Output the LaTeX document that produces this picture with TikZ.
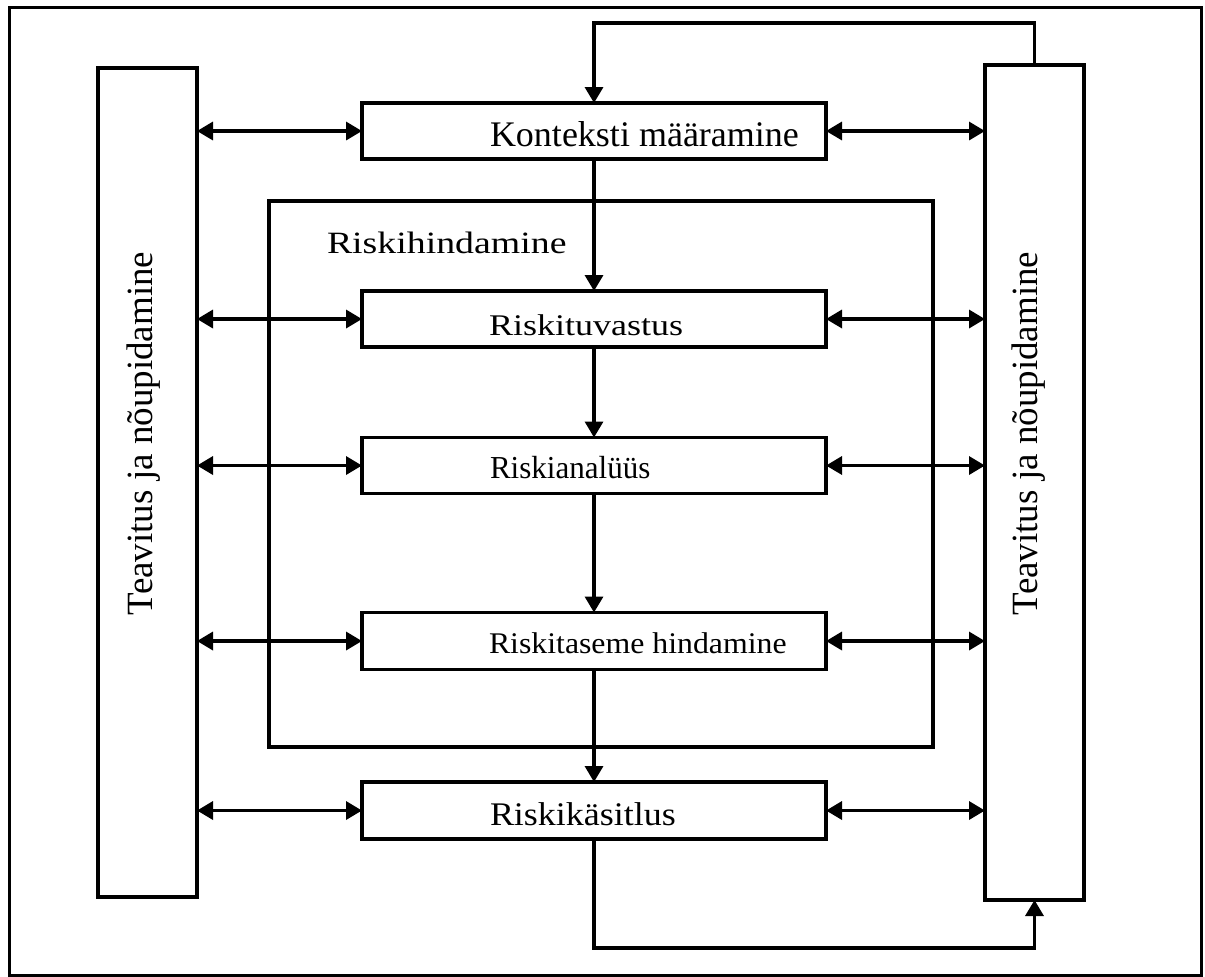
\documentclass[tikz,border=0pt]{standalone}
\usepackage{fontspec}
\setmainfont{Liberation Serif}
\usepackage{graphicx}
\usetikzlibrary{arrows.meta}
\tikzset{
  box/.style={draw, line width=1.9pt, inner sep=0pt, outer sep=0pt},
  tip/.style={},
  arr/.style={line width=1.7pt, -{Triangle[length=8pt,width=9pt]}},
  darr/.style={line width=1.7pt, {Triangle[length=8pt,width=9pt]}-{Triangle[length=8pt,width=9pt]}},
  lbl/.style={anchor=base west, inner sep=0pt, outer sep=0pt},
}
\newcommand{\fs}[1]{\fontsize{#1}{#1}\selectfont}
\begin{document}
\begin{tikzpicture}[x=0.5pt,y=-0.5pt]
\useasboundingbox (0,0) rectangle (1205,976);
% outer border
\draw[line width=1.5pt] (9,7) rectangle (1201,975);
% side boxes
\node[box, minimum width=49.5pt, minimum height=414.5pt] (L) at (147.5,482.5) {};
\node[box, minimum width=49.5pt, minimum height=417.5pt] (R) at (1034.5,482.5) {};
% risk assessment frame
\node[box, minimum width=332pt, minimum height=273pt] (F) at (601,474) {};
% process boxes
\node[box, minimum width=232pt, minimum height=28pt] (k) at (594,131) {};
\node[box, minimum width=232pt, minimum height=28pt] (t) at (594,319) {};
\node[box, minimum width=232pt, minimum height=28pt] (a) at (594,465.5) {};
\node[box, minimum width=232pt, minimum height=28.5pt] (h) at (594,641) {};
\node[box, minimum width=232pt, minimum height=28.5pt] (s) at (594,810.5) {};
% labels
\node[lbl] (kl) at (490,146) {\fs{18}Konteksti määramine};
\node[lbl] (fl) at (327,253) {\fs{15.5}\scalebox{1.22}[1]{Riskihindamine}};
\node[lbl] (tl) at (489,335) {\fs{15}\scalebox{1.2}[1]{Riskituvastus}};
\node[lbl] (al) at (490,478) {\fs{16}\scalebox{0.97}[1]{Riskianalüüs}};
\node[lbl] (hl) at (489,653) {\fs{15}\scalebox{1.06}[1]{Riskitaseme hindamine}};
\node[lbl] (sl) at (490,825) {\fs{16.5}\scalebox{1.09}[1]{Riskikäsitlus}};
\node[lbl, rotate=90] (Ll) at (152,615) {\fs{18.5}Teavitus ja nõupidamine};
\node[lbl, rotate=90] (Rl) at (1037,615) {\fs{18.5}Teavitus ja nõupidamine};
% vertical flow
\draw[arr] (k.south) -- (t.north);
\draw[arr] (t.south) -- (a.north);
\draw[arr] (a.south) -- (h.north);
\draw[arr] (h.south) -- (s.north);
% feedback loops
\coordinate (top) at (594,23);
\coordinate (bot) at (594,948);
\draw[arr] (R.north) |- (top) -- (k.north);
\draw[arr] (s.south) -- (bot) -| (R.south);
% communication arrows
\foreach \n in {k,t,a,h,s}{
  \draw[darr] (L.east |- \n.west) -- (\n.west);
  \draw[darr] (\n.east) -- (R.west |- \n.east);
}
\end{tikzpicture}
\end{document}
